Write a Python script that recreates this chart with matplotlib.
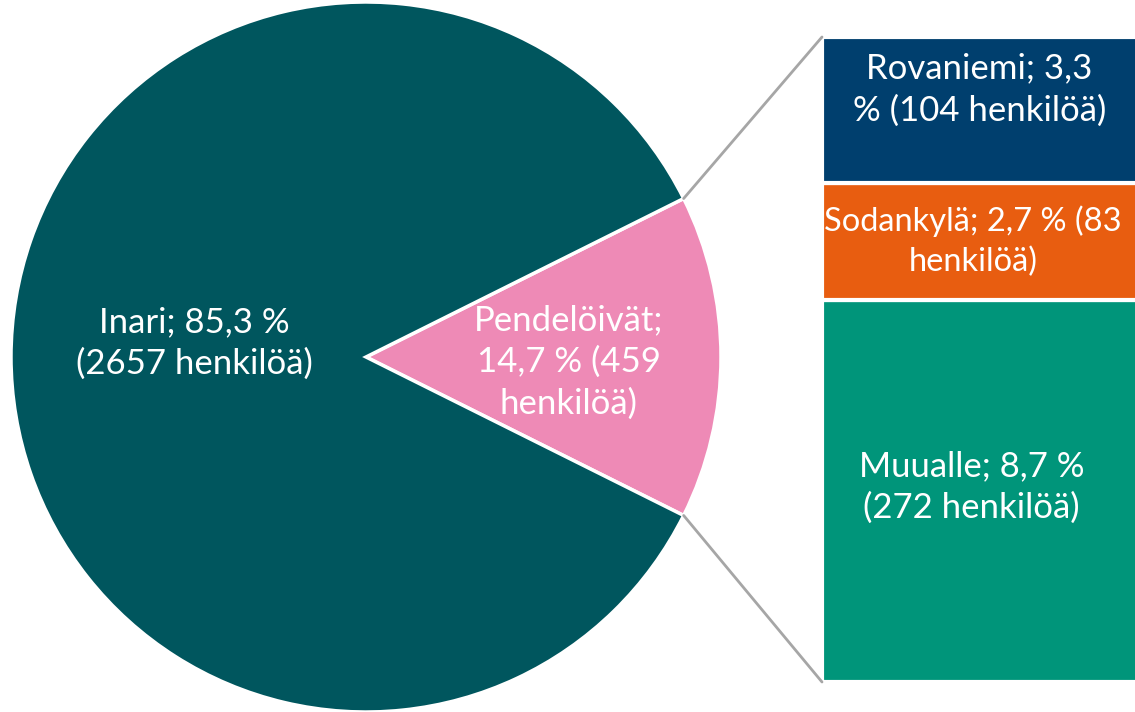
import matplotlib
matplotlib.use("Agg")
import matplotlib.pyplot as plt
from matplotlib.patches import ConnectionPatch
import numpy as np

plt.rcParams['font.family'] = ['Lato', 'DejaVu Sans']

# Data
pie_labels = ["Pendelöivät;\n14,7 % (459\nhenkilöä)", "Inari; 85,3 %\n(2657 henkilöä)"]
pie_values = [459, 2657]
pie_colors = ["#EE8AB6", "#00565E"]

bar_labels = ["Muualle; 8,7 %\n(272 henkilöä)",
              "Sodankylä; 2,7 % (83\nhenkilöä)",
              "Rovaniemi; 3,3\n% (104 henkilöä)"]
bar_values = [272, 83, 104]
bar_colors = ["#00957A", "#E85D10", "#003F6E"]

W, H = 1135, 712
fig = plt.figure(figsize=(W / 100, H / 100), dpi=100)

# Pie axes in pixel-like data coords
ax = fig.add_axes([0, 0, 1, 1])
ax.set_xlim(0, W)
ax.set_ylim(0, H)
ax.set_aspect('equal')
ax.axis('off')

cx, cy, R = 366, H - 357, 355
pink_angle = pie_values[0] / sum(pie_values) * 360
wedges, _ = ax.pie(pie_values, colors=pie_colors, startangle=-pink_angle / 2,
                   center=(cx, cy), radius=R, frame=True,
                   wedgeprops=dict(edgecolor='white', linewidth=2.5))
ax.set_xlim(0, W)
ax.set_ylim(0, H)
ax.axis('off')

FS = 25
LS = 1.38
ax.text(569, H - 362, pie_labels[0], color='white', fontsize=FS, ha='center',
        va='center', linespacing=LS)
ax.text(194, H - 343, pie_labels[1], color='white', fontsize=FS, ha='center',
        va='center', linespacing=LS)

# Bar axes
x0, x1 = 822, 1140
ytop, ybot = 37, 682
bax = fig.add_axes([x0 / W, (H - ybot) / H, (x1 - x0) / W, (ybot - ytop) / H])
bax.set_xlim(-0.5, 0.5)
bax.set_ylim(0, sum(bar_values))
bax.axis('off')
bottom = 0
for val, col in zip(bar_values, bar_colors):
    bax.bar(0, val, width=1.0, bottom=bottom, color=col, edgecolor='white',
            linewidth=3)
    bottom += val

# bar labels (positions in bar data units)
cum = np.cumsum([0] + bar_values)
label_offsets = [(-0.03, 0.51), (-0.025, 0.5), (-0.005, 0.64)]
label_sizes = [FS, 23.5, FS]
for i, (lab, (dx, fy)) in enumerate(zip(bar_labels, label_offsets)):
    yv = cum[i] + bar_values[i] * fy
    bax.text(dx, yv, lab, color='white', fontsize=label_sizes[i],
             ha='center', va='center', linespacing=LS)

# connector lines
theta = np.deg2rad(pink_angle / 2)
p_top = (cx + R * np.cos(theta), cy + R * np.sin(theta))
p_bot = (cx + R * np.cos(theta), cy - R * np.sin(theta))
for p, yb in [(p_top, sum(bar_values)), (p_bot, 0)]:
    con = ConnectionPatch(xyA=(-0.5, yb), coordsA=bax.transData,
                          xyB=p, coordsB=ax.transData,
                          color='#A6A6A6', linewidth=2)
    fig.add_artist(con)

fig.savefig("out.png", dpi=100, facecolor='white')
